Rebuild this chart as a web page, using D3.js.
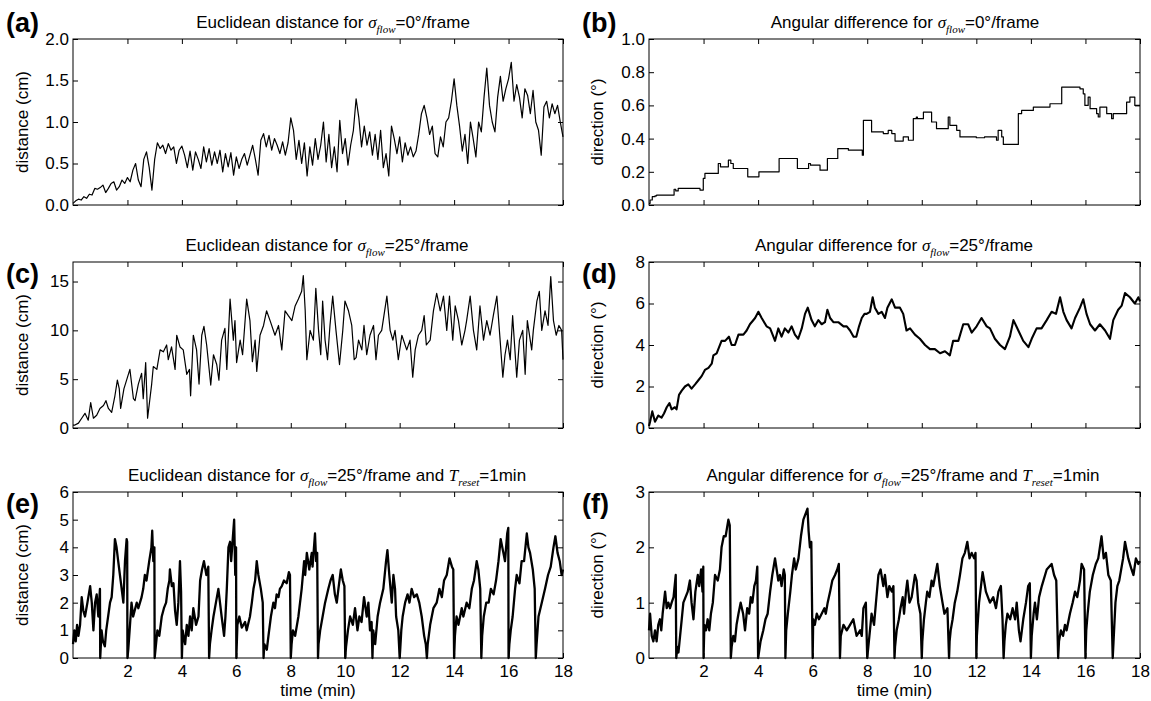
<!DOCTYPE html>
<html>
<head>
<meta charset="utf-8">
<script src="https://cdn.jsdelivr.net/npm/d3@7"></script>
<style>
body{margin:0;background:#fff}
svg{display:block}
text{font-family:"Liberation Sans",Arial,sans-serif;fill:#000}
</style>
</head>
<body>
<svg></svg>
<script>
// ---- data ----
const timeTicks = [2,4,6,8,10,12,14,16,18];

// (a) distance, sigma=0, sampled every 0.1 min
const aStep = 0.1;
const aDist = [0.02,0.05,0.07,0.06,0.10,0.08,0.13,0.12,0.20,0.19,0.21,0.24,0.15,0.20,0.26,0.28,0.18,0.22,0.30,0.26,
0.33,0.28,0.42,0.50,0.30,0.22,0.55,0.64,0.45,0.18,0.55,0.75,0.68,0.72,0.62,0.74,0.66,0.70,0.50,0.66,
0.71,0.60,0.45,0.65,0.42,0.64,0.55,0.44,0.70,0.52,0.68,0.48,0.64,0.50,0.66,0.40,0.62,0.46,0.63,0.36,
0.58,0.44,0.55,0.62,0.48,0.60,0.72,0.55,0.36,0.78,0.86,0.70,0.84,0.66,0.80,0.72,0.62,0.76,0.60,0.75,
1.05,0.90,0.55,0.78,0.50,0.75,0.35,0.70,0.48,0.80,0.55,0.72,1.00,0.52,0.85,0.45,0.70,0.40,1.02,0.62,
0.80,0.48,0.72,0.90,1.28,1.05,0.70,0.95,0.72,0.88,0.60,0.85,0.55,0.90,0.45,0.62,0.35,0.95,0.80,0.62,
0.82,0.52,0.75,0.60,0.70,0.58,0.65,0.85,1.10,1.20,1.05,0.85,0.95,0.62,0.58,0.82,0.70,1.00,1.05,1.25,
1.52,1.20,0.95,0.65,0.85,0.50,1.00,0.80,0.58,1.00,0.88,1.30,1.65,1.20,1.00,0.88,1.30,1.55,1.25,1.40,
1.52,1.72,1.25,1.45,1.30,1.05,1.40,1.32,1.10,1.38,1.00,0.90,0.60,1.18,1.25,1.05,1.22,1.10,1.20,1.00,0.82];
const aTicks = [0,0.5,1,1.5,2];

// (b) direction, sigma=0: step breakpoints
const bTime = [0,0.04,0.12,0.22,0.28,0.92,0.98,1.07,1.87,1.99,2.05,2.54,2.62,2.91,3.0,3.09,3.62,4.03,4.77,5.44,
5.85,5.92,6.27,6.54,6.92,7.31,7.82,7.86,8.16,8.59,8.77,8.9,9.02,9.32,9.51,9.69,9.8,9.84,10.06,10.36,
10.54,10.97,11.03,11.28,11.4,12.0,12.3,12.74,12.8,12.93,12.99,13.54,13.66,14.09,14.7,15.13,15.8,15.92,15.98,16.1,
16.17,16.41,16.47,16.53,16.78,16.96,17.02,17.51,17.63,17.81,18];
const bDir = [0.01,0.03,0.05,0.055,0.06,0.095,0.085,0.10,0.09,0.16,0.19,0.25,0.23,0.27,0.25,0.22,0.17,0.20,0.28,0.22,
0.25,0.24,0.21,0.28,0.34,0.33,0.30,0.51,0.44,0.43,0.45,0.43,0.385,0.41,0.39,0.52,0.53,0.52,0.56,0.50,
0.46,0.53,0.48,0.45,0.41,0.405,0.41,0.39,0.45,0.41,0.365,0.55,0.57,0.59,0.61,0.71,0.70,0.67,0.60,0.65,
0.58,0.55,0.53,0.59,0.55,0.52,0.55,0.62,0.65,0.60,0.60];
const bTicks = [0,0.2,0.4,0.6,0.8,1];

// (c) distance, sigma=25 : [time, value]
const cDist = [[0,0.3],[0.07,0.3],[0.2,0.5],[0.32,1.0],[0.44,1.5],[0.56,0.8],[0.65,2.6],[0.75,1.0],[0.87,1.3],[0.99,2.0],
[1.12,2.3],[1.21,2.8],[1.3,2.0],[1.42,1.6],[1.54,3.3],[1.63,4.9],[1.7,4.0],[1.75,2.0],[1.87,4.0],[2.09,6.0],
[2.22,3.0],[2.28,2.8],[2.4,4.5],[2.52,5.6],[2.58,3.0],[2.67,6.7],[2.74,1.0],[2.89,4.5],[2.95,6.3],[3.08,6.0],
[3.2,8.0],[3.32,7.8],[3.44,8.5],[3.5,7.0],[3.62,8.3],[3.75,6.0],[3.81,9.5],[3.93,8.3],[4.05,8.0],[4.18,5.5],
[4.28,6.0],[4.32,3.3],[4.42,9.5],[4.54,8.0],[4.63,4.5],[4.73,9.5],[4.81,10.4],[4.91,8.5],[5.06,4.4],[5.16,7.5],
[5.28,6.5],[5.36,4.9],[5.46,9.0],[5.58,10.2],[5.65,6.0],[5.77,13.2],[5.89,9.0],[5.95,11.0],[6.01,6.7],[6.14,9.0],
[6.23,7.5],[6.38,13.2],[6.5,11.0],[6.59,6.8],[6.69,9.0],[6.75,5.8],[6.87,9.5],[7.0,10.5],[7.11,12.0],[7.24,11.0],
[7.42,9.5],[7.55,10.5],[7.67,8.0],[7.79,12.0],[7.91,11.5],[8.04,11.0],[8.16,12.5],[8.28,13.2],[8.4,14.0],[8.46,15.6],
[8.53,12.0],[8.59,7.0],[8.71,10.0],[8.83,9.0],[8.92,14.3],[9.02,10.0],[9.1,7.5],[9.17,13.0],[9.26,9.0],[9.35,7.0],
[9.44,10.5],[9.54,13.5],[9.66,10.0],[9.79,6.5],[9.91,10.0],[9.99,13.0],[10.12,12.0],[10.24,10.5],[10.33,7.0],[10.4,7.2],
[10.49,9.0],[10.61,8.0],[10.69,10.5],[10.79,7.5],[10.91,9.5],[11.04,10.5],[11.13,7.0],[11.22,9.5],[11.34,10.0],[11.53,13.5],
[11.65,10.0],[11.75,9.0],[11.83,10.0],[11.95,7.0],[12.08,9.5],[12.26,8.0],[12.38,9.0],[12.48,5.2],[12.57,8.0],[12.69,9.5],
[12.81,10.0],[12.9,11.5],[12.98,8.5],[13.12,9.0],[13.24,12.0],[13.36,13.8],[13.49,12.0],[13.61,13.5],[13.73,10.0],[13.83,13.5],
[13.95,9.0],[14.04,12.5],[14.16,11.0],[14.28,8.5],[14.4,10.0],[14.46,11.0],[14.59,13.5],[14.71,10.0],[14.83,8.0],[14.95,12.5],
[15.08,9.0],[15.2,11.0],[15.32,9.5],[15.44,11.5],[15.57,13.5],[15.69,9.0],[15.79,5.2],[15.87,7.5],[15.96,9.0],[16.06,7.0],
[16.15,11.5],[16.3,5.2],[16.4,9.0],[16.52,10.0],[16.61,5.5],[16.69,11.0],[16.85,8.0],[16.91,10.0],[17.04,13.0],[17.13,14.0],
[17.22,10.0],[17.34,12.0],[17.45,10.5],[17.55,15.5],[17.65,11.0],[17.75,9.5],[17.85,10.5],[17.95,10.0],[18,7.0]];
const cTicks = [0,5,10,15];

// (d) direction, sigma=25 : [time, value]
const dDir = [[0,0.1],[0.04,0.3],[0.12,0.8],[0.22,0.3],[0.34,0.6],[0.46,0.5],[0.55,0.7],[0.65,1.0],[0.75,1.2],[0.83,0.9],
[0.95,1.0],[1.01,0.9],[1.1,1.6],[1.2,1.8],[1.32,2.0],[1.44,2.1],[1.56,1.9],[1.69,2.1],[1.81,2.3],[1.93,2.5],
[2.05,2.8],[2.18,2.9],[2.3,3.1],[2.36,3.5],[2.48,3.6],[2.66,4.2],[2.79,4.2],[2.93,4.4],[3.03,4.0],[3.15,4.0],
[3.28,4.5],[3.46,4.5],[3.58,4.7],[3.7,5.0],[3.89,5.3],[4.01,5.6],[4.13,5.3],[4.31,4.9],[4.44,4.8],[4.56,4.4],
[4.62,4.2],[4.74,4.8],[4.86,4.4],[4.98,4.8],[5.11,4.6],[5.23,4.9],[5.35,4.5],[5.47,4.3],[5.6,4.8],[5.72,5.5],
[5.82,5.8],[5.96,5.2],[6.08,4.9],[6.21,5.2],[6.33,5.0],[6.45,5.1],[6.54,5.7],[6.64,5.3],[6.76,5.1],[6.94,5.1],
[7.13,4.9],[7.25,4.9],[7.37,4.7],[7.5,4.4],[7.6,4.4],[7.7,4.9],[7.8,5.3],[7.9,5.5],[7.98,5.5],[8.1,5.6],
[8.2,6.3],[8.28,5.8],[8.41,5.5],[8.53,5.6],[8.65,5.3],[8.74,5.8],[8.9,6.2],[9.02,5.8],[9.2,5.8],[9.32,5.5],
[9.44,4.7],[9.57,4.8],[9.75,4.5],[9.93,4.3],[10.12,4.0],[10.3,3.8],[10.48,3.8],[10.67,3.6],[10.85,3.7],[11.03,3.5],
[11.15,4.2],[11.34,4.2],[11.52,5.0],[11.7,5.0],[11.83,4.6],[12.01,4.9],[12.19,5.3],[12.38,4.9],[12.5,4.8],[12.68,4.3],
[12.87,4.0],[13.05,3.8],[13.23,4.4],[13.36,5.2],[13.54,4.7],[13.72,4.2],[13.91,3.9],[14.03,4.3],[14.21,4.8],[14.39,4.8],
[14.58,5.2],[14.76,5.6],[14.92,5.5],[15.07,6.3],[15.19,5.6],[15.31,5.2],[15.49,4.8],[15.62,5.3],[15.8,5.8],[15.92,6.2],
[16.04,5.5],[16.17,5.0],[16.35,4.7],[16.53,5.0],[16.72,4.7],[16.9,4.3],[17.02,5.2],[17.2,5.7],[17.33,5.9],[17.45,6.5],
[17.63,6.3],[17.81,6.0],[17.94,6.3],[18,6.1]];
const dTicks = [0,2,4,6,8];

// (e) distance, sigma=25, reset every minute : [time, value]
const eDist = [[0,0.5],[0.05,1.0],[0.1,0.6],[0.15,1.2],[0.2,0.8],[0.26,1.2],[0.32,2.2],[0.38,1.7],[0.44,1.5],[0.53,2.0],
[0.63,2.6],[0.69,2.0],[0.75,1.0],[0.81,2.0],[0.87,2.3],[0.93,1.5],[0.99,2.5],[1,0],
[1.05,1.0],[1.1,0.6],[1.17,0.42],[1.22,1.0],[1.36,2.0],[1.42,2.2],[1.48,3.0],[1.54,4.3],[1.6,4.0],[1.66,3.5],
[1.75,2.8],[1.85,2.0],[1.91,3.5],[1.97,4.3],[1.99,4.2],[2,0],
[2.03,0.3],[2.08,1.0],[2.15,2.0],[2.21,1.5],[2.34,2.0],[2.4,1.8],[2.52,2.2],[2.58,2.5],[2.64,3.0],[2.7,2.8],
[2.8,3.5],[2.88,4.0],[2.91,4.6],[2.95,3.5],[2.99,4.0],[3,0],
[3.05,0.5],[3.1,1.0],[3.17,0.8],[3.26,1.5],[3.34,1.8],[3.42,2.0],[3.48,2.5],[3.54,2.8],[3.56,3.2],[3.63,2.6],
[3.69,2.7],[3.75,1.7],[3.81,1.2],[3.87,2.0],[3.93,3.5],[3.97,2.4],[4,0],
[4.03,1.0],[4.08,0.7],[4.12,0.5],[4.18,1.2],[4.24,0.8],[4.3,1.5],[4.36,1.0],[4.42,1.8],[4.52,1.2],[4.61,1.5],
[4.67,2.8],[4.74,3.2],[4.81,3.5],[4.9,3.0],[4.97,3.3],[5,0],
[5.03,0.5],[5.09,1.0],[5.16,1.5],[5.25,2.0],[5.34,2.5],[5.4,2.0],[5.46,1.5],[5.55,0.8],[5.6,1.5],[5.65,2.5],
[5.71,4.0],[5.77,4.2],[5.81,3.5],[5.86,4.2],[5.92,5.0],[5.96,3.0],[5.99,4.0],[6,0],
[6.04,1.2],[6.11,1.5],[6.2,1.1],[6.32,1.3],[6.38,1.0],[6.5,1.5],[6.57,2.0],[6.63,2.5],[6.69,2.8],[6.75,3.5],
[6.81,3.0],[6.9,2.5],[6.97,2.0],[7,0],
[7.03,0.5],[7.12,0.3],[7.18,0.8],[7.27,1.5],[7.36,2.0],[7.42,1.8],[7.48,2.3],[7.55,2.2],[7.6,2.5],[7.67,2.6],
[7.75,2.8],[7.85,2.7],[7.93,3.1],[7.97,3.0],[8,0],
[8.03,0.5],[8.08,1.0],[8.16,0.8],[8.28,1.5],[8.4,2.5],[8.49,3.5],[8.53,3.0],[8.59,3.8],[8.68,3.2],[8.77,3.8],
[8.8,3.3],[8.89,4.5],[8.93,3.5],[8.97,3.8],[9,0],
[9.02,0.5],[9.08,1.0],[9.17,1.5],[9.26,2.0],[9.38,2.5],[9.46,2.8],[9.54,3.0],[9.62,2.3],[9.69,2.0],[9.75,2.5],
[9.84,3.2],[9.91,2.8],[9.97,2.6],[10,0],
[10.03,0.4],[10.1,1.0],[10.18,1.5],[10.28,1.2],[10.36,1.8],[10.45,1.0],[10.52,1.5],[10.6,1.3],[10.69,2.2],[10.79,1.5],
[10.85,2.0],[10.91,1.0],[10.97,1.3],[11,0],
[11.03,1.0],[11.1,0.5],[11.19,1.5],[11.28,2.0],[11.4,2.5],[11.5,3.5],[11.55,3.9],[11.62,3.0],[11.71,2.0],[11.77,3.0],
[11.83,2.5],[11.87,1.5],[11.95,1.0],[12,0],
[12.02,0.3],[12.06,1.0],[12.11,1.5],[12.2,2.0],[12.29,2.3],[12.36,2.0],[12.44,2.5],[12.53,2.2],[12.63,2.3],[12.72,2.0],
[12.81,1.5],[12.9,0.8],[12.96,0.5],[13,0],
[13.03,0.5],[13.12,1.2],[13.24,1.8],[13.36,2.0],[13.46,2.5],[13.55,2.2],[13.63,2.8],[13.73,3.0],[13.83,3.6],[13.92,3.3],
[13.97,3.2],[14,0],
[14.03,0.8],[14.09,1.5],[14.16,1.2],[14.28,1.8],[14.34,1.5],[14.46,2.0],[14.56,1.8],[14.65,2.5],[14.73,2.8],[14.83,3.5],
[14.89,3.2],[14.96,2.5],[15,0],
[15.03,0.8],[15.09,1.5],[15.18,2.0],[15.27,2.0],[15.35,2.5],[15.45,2.3],[15.54,2.8],[15.63,3.5],[15.71,4.3],[15.81,3.8],
[15.87,3.5],[15.95,4.5],[15.99,4.7],[16,0],
[16.03,0.5],[16.08,1.0],[16.15,1.5],[16.24,2.5],[16.3,3.0],[16.4,2.7],[16.48,3.5],[16.57,3.5],[16.67,4.5],[16.73,4.0],
[16.79,3.8],[16.89,3.2],[16.96,2.5],[17,0],
[17.03,0.5],[17.1,1.5],[17.22,2.0],[17.34,2.5],[17.45,3.0],[17.55,3.3],[17.65,4.0],[17.72,4.4],[17.8,3.8],[17.88,3.5],
[17.95,3.0],[18,3.2]];
const eTicks = [0,1,2,3,4,5,6];

// (f) direction, sigma=25, reset every minute : [time, value]
const fDir = [[0,0.5],[0.04,0.8],[0.1,0.4],[0.16,0.3],[0.22,0.5],[0.28,0.3],[0.34,0.6],[0.4,0.7],[0.45,0.5],[0.5,0.8],
[0.59,1.2],[0.65,0.9],[0.71,1.0],[0.77,0.9],[0.83,1.0],[0.9,1.1],[0.98,1.5],[1,0],
[1.04,0.2],[1.08,0.1],[1.14,0.4],[1.2,0.7],[1.26,1.0],[1.34,1.1],[1.42,1.2],[1.5,1.4],[1.56,1.0],[1.63,0.7],
[1.7,1.2],[1.79,1.5],[1.84,1.3],[1.91,1.6],[1.96,1.2],[1.99,1.65],[2,0],
[2.03,0.6],[2.09,0.5],[2.15,0.7],[2.21,0.5],[2.27,0.8],[2.34,1.0],[2.42,1.5],[2.52,1.4],[2.6,1.6],[2.66,2.0],
[2.74,2.2],[2.81,2.2],[2.91,2.5],[2.96,2.4],[3,0],
[3.03,0.2],[3.09,0.4],[3.15,0.3],[3.21,0.6],[3.28,0.8],[3.36,1.0],[3.45,0.8],[3.52,0.5],[3.6,0.9],[3.67,0.8],
[3.73,1.1],[3.79,1.0],[3.86,1.3],[3.92,1.4],[3.97,1.65],[4,0],
[4.03,0.1],[4.09,0.3],[4.19,0.5],[4.27,0.7],[4.35,0.8],[4.44,1.2],[4.52,1.5],[4.62,1.8],[4.74,1.4],[4.8,1.5],
[4.86,1.3],[4.94,1.6],[4.98,1.5],[5,0],
[5.03,0.5],[5.09,0.8],[5.18,1.2],[5.24,1.5],[5.32,1.8],[5.38,1.6],[5.48,1.8],[5.57,2.2],[5.66,2.5],[5.81,2.7],
[5.85,2.3],[5.9,2.0],[5.95,2.1],[6,0],
[6.02,0.7],[6.08,0.6],[6.15,0.8],[6.23,0.7],[6.33,0.8],[6.43,0.9],[6.48,0.8],[6.55,1.0],[6.64,1.2],[6.72,1.4],
[6.82,1.5],[6.9,1.6],[6.96,1.7],[7,0],
[7.03,0.4],[7.13,0.6],[7.25,0.5],[7.37,0.6],[7.49,0.7],[7.61,0.4],[7.74,0.5],[7.8,0.4],[7.86,0.9],[7.95,1.0],[8,0],
[8.04,0.2],[8.1,0.5],[8.16,0.8],[8.25,0.6],[8.32,1.0],[8.41,1.5],[8.49,1.6],[8.59,1.3],[8.65,1.5],[8.74,1.1],
[8.81,1.3],[8.9,1.2],[8.96,1.3],[9,0],
[9.02,0.2],[9.08,0.5],[9.16,0.7],[9.22,0.9],[9.3,1.1],[9.35,0.8],[9.42,1.2],[9.47,1.4],[9.55,1.0],[9.63,1.1],
[9.75,1.5],[9.81,1.4],[9.87,1.0],[9.95,0.8],[10,0],
[10.02,0.3],[10.08,0.7],[10.15,1.0],[10.2,1.2],[10.28,1.1],[10.36,1.4],[10.42,1.3],[10.57,1.7],[10.66,1.3],[10.76,1.0],
[10.83,0.8],[10.94,0.9],[11,0],
[11.02,0.3],[11.06,0.5],[11.13,0.7],[11.21,1.0],[11.3,1.2],[11.4,1.5],[11.49,1.8],[11.58,1.9],[11.67,2.1],[11.75,1.8],
[11.83,1.9],[11.92,1.8],[11.97,1.9],[12,0],
[12.02,0.4],[12.1,1.0],[12.23,1.55],[12.35,1.2],[12.5,1.0],[12.62,1.1],[12.72,0.9],[12.81,1.2],[12.9,1.3],[12.96,0.7],[13,0],
[13.03,0.3],[13.08,0.6],[13.14,0.8],[13.24,0.7],[13.33,0.9],[13.42,0.7],[13.48,1.0],[13.56,0.5],[13.62,0.3],[13.72,0.7],
[13.82,1.0],[13.9,1.3],[13.96,1.35],[14,0],
[14.03,0.4],[14.1,0.8],[14.15,1.0],[14.22,0.7],[14.3,1.1],[14.4,1.3],[14.58,1.6],[14.76,1.7],[14.85,1.5],[14.93,1.4],[15,0],
[15.03,0.3],[15.1,0.5],[15.18,0.4],[15.25,0.6],[15.31,0.5],[15.43,0.8],[15.53,1.0],[15.62,1.2],[15.7,1.1],[15.8,1.4],
[15.86,1.7],[15.95,1.6],[16,0],
[16.03,0.5],[16.08,0.8],[16.16,1.2],[16.27,1.5],[16.38,1.7],[16.47,1.8],[16.59,2.2],[16.67,1.8],[16.75,1.9],[16.84,1.5],
[16.93,1.4],[17,0],
[17.03,0.3],[17.06,0.6],[17.1,1.0],[17.17,1.3],[17.24,1.4],[17.38,1.8],[17.45,2.1],[17.57,1.8],[17.69,1.6],[17.76,1.5],
[17.85,1.8],[17.94,1.7],[18,1.75]];
const fTicks = [0,1,2,3];

// ---- layout ----
const svg = d3.select('svg').attr('width', 1151).attr('height', 701);
const colX = [73, 649], colW = [490, 491];
const rowY = [39, 262, 492], rowH = 166;

const sig = (rest) => [{t:'σ', it:true}, {t:'flow', sub:true}, {t:rest}];
const panels = [
  {tag:'(a)', col:0, row:0, pts:aDist.map((v,i) => [i*aStep, v]), yMax:2, ticks:aTicks, fmt:'.1f',
   ylabel:'distance (cm)', title:[{t:'Euclidean distance for '}].concat(sig('=0°/frame')), tc:333, sw:1.2},
  {tag:'(b)', col:1, row:0, pts:bTime.map((t,i) => [t, bDir[i]]), step:true, yMax:1, ticks:bTicks, fmt:'.1f',
   ylabel:'direction (°)', title:[{t:'Angular difference for '}].concat(sig('=0°/frame')), tc:905, sw:1.2},
  {tag:'(c)', col:0, row:1, pts:cDist, yMax:17, ticks:cTicks, fmt:'d',
   ylabel:'distance (cm)', title:[{t:'Euclidean distance for '}].concat(sig('=25°/frame')), tc:327, sw:1.2},
  {tag:'(d)', col:1, row:1, pts:dDir, yMax:8, ticks:dTicks, fmt:'d',
   ylabel:'direction (°)', title:[{t:'Angular difference for  '}].concat(sig('=25°/frame')), tc:894, sw:2.1},
  {tag:'(e)', col:0, row:2, pts:eDist, yMax:6, ticks:eTicks, fmt:'d', bottom:true,
   ylabel:'distance (cm)', title:[{t:'Euclidean distance for '}].concat(sig('=25°/frame and '),
     [{t:'T', it:true}, {t:'reset', sub:true}, {t:'=1min'}]), tc:327, sw:2.3},
  {tag:'(f)', col:1, row:2, pts:fDir, yMax:3, ticks:fTicks, fmt:'d', bottom:true,
   ylabel:'direction (°)', title:[{t:'Angular difference for '}].concat(sig('=25°/frame and '),
     [{t:'T', it:true}, {t:'reset', sub:true}, {t:'=1min'}]), tc:903, sw:2.3}
];

panels.forEach(p => {
  const x0 = colX[p.col], w = colW[p.col], y0 = rowY[p.row];
  const x = d3.scaleLinear().domain([0, 18]).range([x0, x0 + w]);
  const y = d3.scaleLinear().domain([0, p.yMax]).range([y0 + rowH, y0]);
  const g = svg.append('g');

  // data line
  const line = d3.line().x(d => x(d[0])).y(d => y(d[1]));
  if (p.step) line.curve(d3.curveStepAfter);
  g.append('path').datum(p.pts)
    .attr('d', line)
    .attr('fill', 'none').attr('stroke', '#000')
    .attr('stroke-width', p.sw).attr('stroke-linejoin', 'round');

  // axes, ticks pointing inward on all four sides
  const styleAxis = sel => {
    sel.select('.domain').remove();
    sel.selectAll('.tick line').attr('stroke', '#000');
    sel.selectAll('text').attr('font-size', 17).attr('font-family', '"Liberation Sans",Arial,sans-serif');
  };
  g.append('g').attr('transform', `translate(0,${y0 + rowH})`)
    .call(d3.axisBottom(x).tickValues(timeTicks).tickSize(-5).tickPadding(7)
      .tickFormat(p.bottom ? d3.format('d') : ''))
    .call(styleAxis);
  g.append('g').attr('transform', `translate(0,${y0})`)
    .call(d3.axisTop(x).tickValues(timeTicks).tickSize(-5).tickFormat(''))
    .call(styleAxis);
  g.append('g').attr('transform', `translate(${x0},0)`)
    .call(d3.axisLeft(y).tickValues(p.ticks).tickSize(-5).tickPadding(4).tickFormat(d3.format(p.fmt)))
    .call(styleAxis);
  g.append('g').attr('transform', `translate(${x0 + w},0)`)
    .call(d3.axisRight(y).tickValues(p.ticks).tickSize(-5).tickFormat(''))
    .call(styleAxis);

  g.append('rect').attr('x', x0).attr('y', y0).attr('width', w).attr('height', rowH)
    .attr('fill', 'none').attr('stroke', '#000').attr('stroke-width', 1);

  // title with italic symbols and subscripts
  const tt = g.append('text').attr('x', p.tc).attr('y', y0 - 11)
    .attr('text-anchor', 'middle').attr('font-size', 17);
  let down = false;
  p.title.forEach(s => {
    const ts = tt.append('tspan').text(s.t);
    if (s.it || s.sub) ts.attr('font-family', '"Liberation Serif",serif').attr('font-style', 'italic');
    if (s.sub) { ts.attr('font-size', 11).attr('dy', 5); down = true; }
    else if (down) { ts.attr('dy', -5); down = false; }
  });

  // y label
  g.append('text')
    .attr('transform', `translate(${p.col ? 597 : 22},${y0 + rowH / 2}) rotate(-90)`)
    .attr('text-anchor', 'middle').attr('dy', '0.35em').attr('font-size', 17)
    .text(p.ylabel);

  // panel tag
  g.append('text').attr('x', p.col ? 582 : 6).attr('y', p.row ? y0 + 21 : y0 - 7)
    .attr('font-size', 27).attr('font-weight', 'bold').text(p.tag);

  if (p.bottom) {
    g.append('text').attr('x', x0 + w / 2).attr('y', y0 + rowH + 38)
      .attr('text-anchor', 'middle').attr('font-size', 17).text('time (min)');
  }
});
</script>
</body>
</html>
